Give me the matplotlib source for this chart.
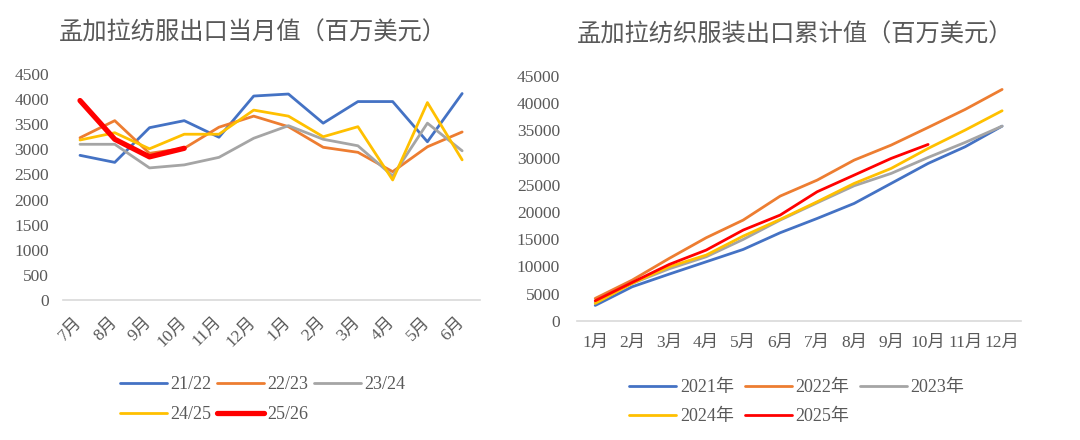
import matplotlib
matplotlib.use("Agg")
import matplotlib.pyplot as plt
import numpy as np

# 当月值 (left chart), months of the fiscal year Jul-Jun
fy_months = ["7月", "8月", "9月", "10月", "11月", "12月", "1月", "2月", "3月", "4月", "5月", "6月"]
fy_labels = ["21/22", "22/23", "23/24", "24/25", "25/26"]
fy_2122 = [2880, 2740, 3430, 3570, 3240, 4060, 4100, 3520, 3950, 3950, 3150, 4110]
fy_2223 = [3230, 3570, 2920, 3020, 3440, 3660, 3450, 3040, 2940, 2555, 3050, 3345]
fy_2324 = [3100, 3100, 2630, 2690, 2840, 3220, 3470, 3200, 3070, 2470, 3520, 2970]
fy_2425 = [3185, 3330, 3010, 3300, 3300, 3780, 3660, 3250, 3450, 2390, 3930, 2790]
fy_2526 = [3970, 3200, 2850, 3020]

# 累计值 (right chart), calendar months
cal_months = ["1月", "2月", "3月", "4月", "5月", "6月", "7月", "8月", "9月", "10月", "11月", "12月"]
cal_labels = ["2021年", "2022年", "2023年", "2024年", "2025年"]
cum_2021 = [2820, 6250, 8580, 10850, 13120, 16190, 18820, 21580, 25260, 28940, 32000, 35800]
cum_2022 = [4110, 7480, 11470, 15270, 18520, 22930, 25870, 29550, 32310, 35560, 38870, 42550]
cum_2023 = [3370, 6870, 9560, 11770, 14960, 18520, 21700, 24830, 27100, 30040, 32800, 35800]
cum_2024 = [3190, 6870, 9930, 12080, 15570, 18640, 21890, 25260, 28020, 31700, 35070, 38630]
cum_2025 = [3680, 7050, 10360, 13000, 16680, 19440, 23730, 26790, 29860, 32430]

colors = ["#4472C4", "#ED7D31", "#A5A5A5", "#FFC000", "#FF0000"]
txt = "#595959"
fonts = ["Liberation Serif", "Noto Sans CJK SC"]
plt.rcParams["font.family"] = fonts

fig = plt.figure(figsize=(10.8, 4.4), dpi=100)
ax1 = fig.add_axes([0.058, 0.318, 0.386, 0.514])
ax2 = fig.add_axes([0.534, 0.271, 0.411, 0.556])

# legend fills column by column, reorder so rows read left to right
order = [0, 3, 1, 4, 2]


def style(ax):
    for s in ["top", "right", "left"]:
        ax.spines[s].set_visible(False)
    ax.spines["bottom"].set_color("#d9d9d9")
    ax.spines["bottom"].set_linewidth(1.2)
    ax.tick_params(length=0, colors=txt, labelsize=12.5)
    ax.set_xlim(-0.5, 11.5)


# left
series1 = [fy_2122, fy_2223, fy_2324, fy_2425, fy_2526]
for vals, lab, c in zip(series1, fy_labels, colors):
    lw = 3.8 if lab == "25/26" else 2.0
    ax1.plot(np.arange(len(vals)), vals, color=c, lw=lw, label=lab,
             solid_capstyle="round", solid_joinstyle="round")
style(ax1)
ax1.set_ylim(0, 4500)
ax1.set_yticks(np.arange(0, 4501, 500))
ax1.set_xticks(np.arange(12))
ax1.set_xticklabels(fy_months, rotation=45, ha="right", va="center",
                    rotation_mode="anchor")
ax1.tick_params(axis="x", pad=14)
ax1.tick_params(axis="y", pad=10)
fig.text(0.234, 0.927, "孟加拉纺服出口当月值（百万美元）", ha="center", va="center",
         fontsize=17.5, color=txt, family="Noto Sans CJK SC")
h, l = ax1.get_legend_handles_labels()
fig.legend([h[i] for i in order], [l[i] for i in order], loc="center",
           bbox_to_anchor=(0.243, 0.092), ncol=3, frameon=False,
           fontsize=13, handlelength=2.6, handletextpad=0.2,
           columnspacing=0.3, labelcolor=txt, labelspacing=0.7)

# right
series2 = [cum_2021, cum_2022, cum_2023, cum_2024, cum_2025]
for vals, lab, c in zip(series2, cal_labels, colors):
    ax2.plot(np.arange(len(vals)), vals, color=c, lw=2.0, label=lab,
             solid_capstyle="round", solid_joinstyle="round")
style(ax2)
ax2.set_ylim(0, 45000)
ax2.set_yticks(np.arange(0, 45001, 5000))
ax2.set_xticks(np.arange(12))
ax2.set_xticklabels(cal_months)
ax2.tick_params(axis="x", pad=10)
ax2.tick_params(axis="y", pad=12)
fig.text(0.736, 0.922, "孟加拉纺织服装出口累计值（百万美元）", ha="center", va="center",
         fontsize=17.5, color=txt, family="Noto Sans CJK SC")
h, l = ax2.get_legend_handles_labels()
fig.legend([h[i] for i in order], [l[i] for i in order], loc="center",
           bbox_to_anchor=(0.738, 0.086), ncol=3, frameon=False,
           fontsize=13, handlelength=2.6, handletextpad=0.2,
           columnspacing=0.6, labelcolor=txt, labelspacing=0.7)

fig.savefig("out.png", dpi=100)
